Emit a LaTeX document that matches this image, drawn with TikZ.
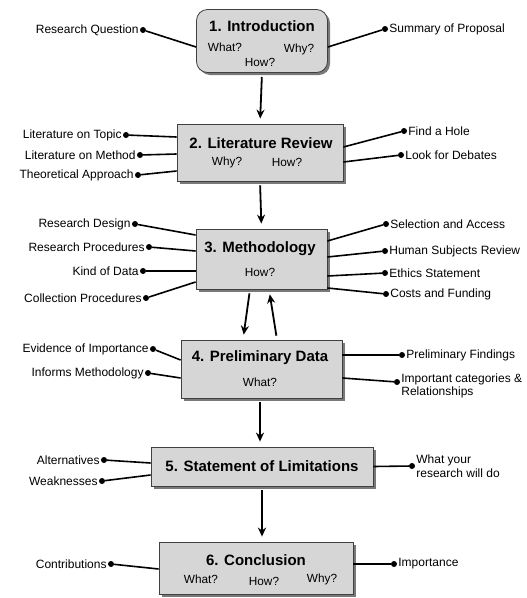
\documentclass[tikz,border=0pt]{standalone}
\usepackage{fontspec}
\setmainfont{Liberation Sans}
\usetikzlibrary{arrows.meta,shadows}

\definecolor{boxfill}{rgb}{.84,.84,.84}
\definecolor{boxline}{rgb}{.25,.25,.25}

\begin{document}
\begin{tikzpicture}[x=1pt,y=-1pt,
  stage/.style={draw=boxline, line width=.8pt, fill=boxfill, inner sep=0pt,
    drop shadow={shadow xshift=2.5pt, shadow yshift=-2.5pt, fill=black!70, opacity=.75}},
  title/.style={font=\fontsize{15}{17}\selectfont\bfseries, inner sep=0pt},
  txt/.style={font=\fontsize{11.8}{13}\selectfont, inner sep=0pt},
  dot/.style={circle, fill=black, inner sep=0pt, minimum size=6pt},
  lbl/.style={font=\fontsize{12}{13.5}\selectfont, inner sep=0pt, label distance=1pt},
  link/.style={line width=1.6pt},
  flow/.style={line width=1.8pt, -{Stealth[length=9pt,width=8pt]}, shorten <=4pt, shorten >=5pt}]
\useasboundingbox (0,0) rectangle (527,598);

% the six stages
\node [stage, rounded corners=11pt, minimum width=131pt, minimum height=63pt] (intro) at (262,41) {};
\node [stage, minimum width=166pt, minimum height=57pt] (litrev) at (260,152.5) {};
\node [stage, minimum width=131pt, minimum height=60pt] (method) at (261.5,259) {};
\node [stage, minimum width=161pt, minimum height=58pt] (prelim) at (261.5,369) {};
\node [stage, minimum width=222pt, minimum height=39pt] (limits) at (262,466.5) {};
\node [stage, minimum width=194pt, minimum height=52pt] (concl) at (256,568) {};

% texts in the stages
\node [title] (intro-t) at (262,26) {1. Introduction};
\node [txt] (intro-what) at (225,47) {What?};
\node [txt] (intro-why) at (299,49) {Why?};
\node [txt] (intro-how) at (260,62) {How?};
\node [title] (litrev-t) at (261,143) {2. Literature Review};
\node [txt] (litrev-why) at (227,162) {Why?};
\node [txt] (litrev-how) at (287,162) {How?};
\node [title] (method-t) at (260,249) {3. Methodology};
\node [txt] (method-how) at (260,272) {How?};
\node [title] (prelim-t) at (260,358) {4. Preliminary Data};
\node [txt] (prelim-what) at (260,382) {What?};
\node [title] (limits-t) at (262,466) {5. Statement of Limitations};
\node [title] (concl-t) at (256,560) {6. Conclusion};
\node [txt] (concl-what) at (201,579) {What?};
\node [txt] (concl-how) at (264,581) {How?};
\node [txt] (concl-why) at (322,579) {Why?};

% flow between stages
\draw [flow] (intro.south) -- (litrev.north);
\draw [flow] (litrev.south) -- (method.north);
\draw [flow] ([xshift=-11.5pt]method.south) -- ([xshift=-18.5pt]prelim.north);
\draw [flow] ([xshift=15.5pt]prelim.north) -- ([xshift=7.5pt]method.south);
\draw [flow] ([xshift=-1.5pt]prelim.south) -- ([xshift=-2pt]limits.north);
\draw [flow] (limits.south) -- ([xshift=6pt]concl.north);

% 1. Introduction
\node [dot, label={[lbl]left:Research Question}] (rq) at (143,30) {};
\node [dot, label={[lbl]right:Summary of Proposal}] (sp) at (385,29) {};
\draw [link] (rq) -- ([yshift=-6pt]intro.west);
\draw [link] (sp) -- ([yshift=-6pt]intro.east);

% 2. Literature Review
\node [dot, label={[lbl]left:Literature on Topic}] (lt) at (126,135) {};
\node [dot, label={[lbl]left:Literature on Method}] (lm) at (140,155) {};
\node [dot, label={[lbl]left:Theoretical Approach}] (ta) at (138,175) {};
\node [dot, label={[lbl]right:Find a Hole}] (fh) at (404,131) {};
\node [dot, label={[lbl]right:Look for Debates}] (ld) at (401,155) {};
\draw [link] (lt) -- ([yshift=15.5pt]litrev.west);
\draw [link] (lm) -- ([yshift=-1.5pt]litrev.west);
\draw [link] (ta) -- ([yshift=-18.5pt]litrev.west);
\draw [link] (fh) -- ([yshift=5.5pt]litrev.east);
\draw [link] (ld) -- ([yshift=-9.5pt]litrev.east);

% 3. Methodology
\node [dot, label={[lbl]left:Research Design}] (rd) at (135,224) {};
\node [dot, label={[lbl]left:Research Procedures}] (rp) at (149,247) {};
\node [dot, label={[lbl]left:Kind of Data}] (kd) at (143,271) {};
\node [dot, label={[lbl]left:Collection Procedures}] (cp) at (146,298) {};
\node [dot, label={[lbl]right:Selection and Access}] (sa) at (386,224) {};
\node [dot, label={[lbl]right:Human Subjects Review}] (hs) at (385,251) {};
\node [dot, label={[lbl]right:Ethics Statement}] (es) at (385,273) {};
\node [dot, label={[lbl]right:Costs and Funding}] (cf) at (386,294) {};
\draw [link] (rd) -- ([yshift=24pt]method.west);
\draw [link] (rp) -- ([yshift=8pt]method.west);
\draw [link] (kd) -- ([yshift=-12pt]method.west);
\draw [link] (cp) -- ([yshift=-23pt]method.west);
\draw [link] (sa) -- ([yshift=18pt]method.east);
\draw [link] (hs) -- ([yshift=2pt]method.east);
\draw [link] (es) -- ([yshift=-17pt]method.east);
\draw [link] (cf) -- ([yshift=-29pt]method.east);

% 4. Preliminary Data
\node [dot, label={[lbl]left:Evidence of Importance}] (ei) at (153,349) {};
\node [dot, label={[lbl]left:Informs Methodology}] (im) at (148,373) {};
\node [dot, label={[lbl]right:Preliminary Findings}] (pf) at (402,355) {};
\node [dot, label={[lbl, align=left, yshift=-4pt]right:Important categories \&\\Relationships}] (ic) at (397,382) {};
\draw [link] (ei) -- ([yshift=9pt]prelim.west);
\draw [link] (im) -- ([yshift=-9pt]prelim.west);
\draw [link] (pf) -- ([yshift=14pt]prelim.east);
\draw [link] (ic) -- ([yshift=-9pt]prelim.east);

% 5. Statement of Limitations
\node [dot, label={[lbl]left:Alternatives}] (al) at (104,460) {};
\node [dot, label={[lbl]left:Weaknesses}] (wk) at (102,481) {};
\node [dot, label={[lbl, align=left]right:What your\\research will do}] (wy) at (412,466) {};
\draw [link] (al) -- ([yshift=3.5pt]limits.west);
\draw [link] (wk) -- ([yshift=-8.5pt]limits.west);
\draw [link] (wy) -- (limits.east);

% 6. Conclusion
\node [dot, label={[lbl]left:Contributions}] (co) at (111,564) {};
\node [dot, label={[lbl]right:Importance}] (ip) at (394,564) {};
\draw [link] (co) -- ([yshift=-1pt]concl.west);
\draw [link] (ip) -- ([yshift=4pt]concl.east);
\end{tikzpicture}
\end{document}
